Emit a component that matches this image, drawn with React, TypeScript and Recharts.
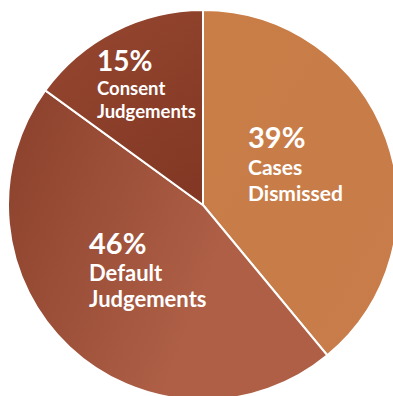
import React from "react";
import { PieChart, Pie, Cell } from "recharts";

const categories = ["Cases Dismissed", "Default Judgements", "Consent Judgements"];
const shares = [39, 46, 15];
const labelLine1 = ["Cases", "Default", "Consent"];
const labelLine2 = ["Dismissed", "Judgements", "Judgements"];

const data = categories.map((name, i) => ({
  name,
  value: shares[i],
  l1: labelLine1[i],
  l2: labelLine2[i],
}));

const FILLS = ["url(#gCases)", "url(#gDefault)", "url(#gConsent)"];

// label layout: offsets from pie center (left edge, first baseline), line spacing, font sizes
const LABEL_LAYOUT: Record<string, any> = {
  "Cases Dismissed": { dx: 45, dy: -57, g1: 27, g2: 53, big: 29, small: 21 },
  "Default Judgements": { dx: -114, dy: 49, g1: 27, g2: 53, big: 29, small: 22 },
  "Consent Judgements": { dx: -106, dy: -134, g1: 24, g2: 47, big: 28, small: 18.5 },
};

const FONT = "Lato, 'Open Sans', sans-serif";

const renderLabel = (props: any) => {
  const { cx, cy, payload, value } = props;
  const p = payload && payload.payload ? payload.payload : payload;
  const name = p.name ?? props.name;
  const lay = LABEL_LAYOUT[name];
  if (!lay) return null;
  const x = cx + lay.dx;
  const y = cy + lay.dy;
  return (
    <g>
      <text x={x} y={y} fill="#fff" fontFamily={FONT} fontWeight={700} fontSize={lay.big} textAnchor="start">
        {`${value}%`}
      </text>
      <text x={x} y={y + lay.g1} fill="#fff" fontFamily={FONT} fontWeight={700} fontSize={lay.small} textAnchor="start">
        {p.l1}
      </text>
      <text x={x} y={y + lay.g2} fill="#fff" fontFamily={FONT} fontWeight={700} fontSize={lay.small} textAnchor="start">
        {p.l2}
      </text>
    </g>
  );
};

export default function App() {
  return (
    <div
      style={{
        position: "fixed",
        left: 0,
        top: 0,
        width: 393,
        height: 396,
        overflow: "hidden",
        background: "#fff",
      }}
    >
      <svg width={0} height={0} style={{ position: "absolute" }}>
        <defs>
          <linearGradient id="gCases" x1="0" y1="0" x2="1" y2="1">
            <stop offset="0%" stopColor="#C97E47" />
            <stop offset="100%" stopColor="#C77C4A" />
          </linearGradient>
          <linearGradient id="gDefault" x1="0" y1="0.3" x2="0.65" y2="0.55">
            <stop offset="0%" stopColor="#8F442F" />
            <stop offset="100%" stopColor="#AE5F46" />
          </linearGradient>
          <linearGradient id="gConsent" x1="0.2" y1="0" x2="0.8" y2="1">
            <stop offset="0%" stopColor="#95462F" />
            <stop offset="100%" stopColor="#823824" />
          </linearGradient>
        </defs>
      </svg>
      <PieChart width={393} height={396} margin={{ top: 0, right: 0, bottom: 0, left: 0 }}>
        <Pie
          data={data}
          dataKey="value"
          nameKey="name"
          cx={203}
          cy={205}
          outerRadius={195}
          startAngle={90}
          endAngle={-270}
          stroke="#fff"
          strokeWidth={2}
          label={renderLabel}
          labelLine={false}
          isAnimationActive={false}
        >
          {data.map((d, i) => (
            <Cell key={d.name} fill={FILLS[i]} />
          ))}
        </Pie>
      </PieChart>
    </div>
  );
}
